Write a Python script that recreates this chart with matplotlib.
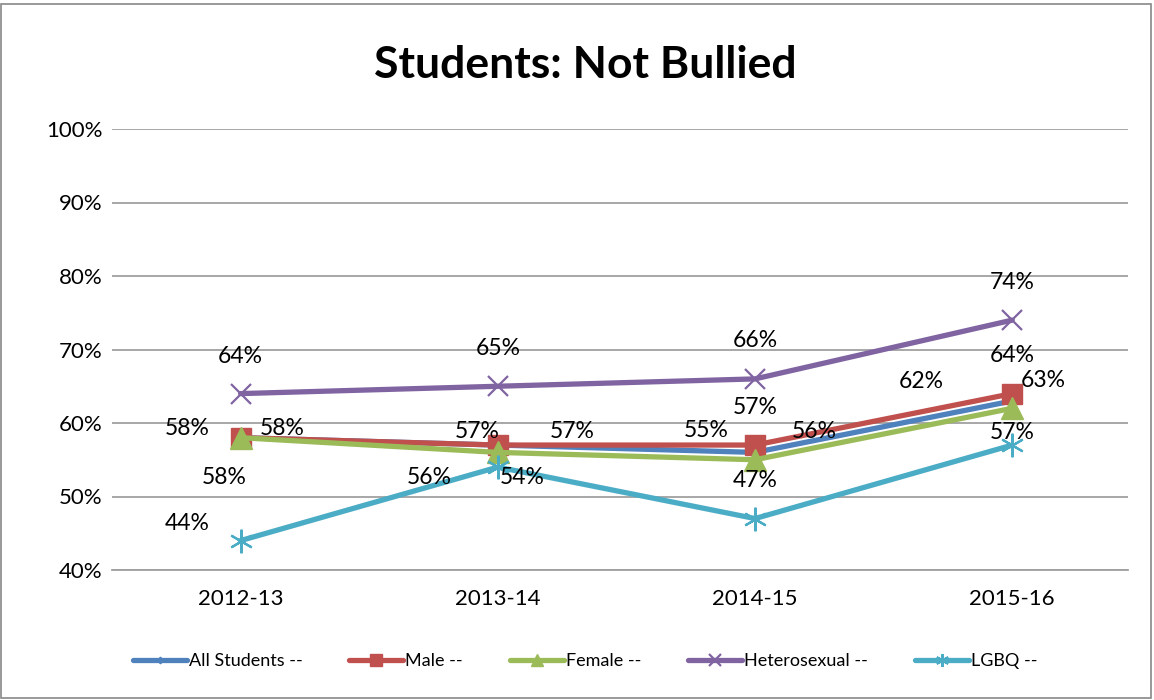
import matplotlib.pyplot as plt
from matplotlib.patches import Rectangle

# chart data
years = ["2012-13", "2013-14", "2014-15", "2015-16"]
all_students = [58, 57, 56, 63]
male = [58, 57, 57, 64]
female = [58, 56, 55, 62]
hetero = [64, 65, 66, 74]
lgbq = [44, 54, 47, 57]

plt.rcParams['font.family'] = ['Lato', 'DejaVu Sans']

fig = plt.figure(figsize=(11.54, 7.0), dpi=100)
ax = fig.add_axes([112 / 1154, 1 - 570 / 700, 1016 / 1154, 441 / 700])

# series: (label, values, color, marker, markersize, label offsets in px)
series = [
    ("All Students --", all_students, "#4F81BD", "D", 6,
     [(42, 9), (74, 14), (59, 21), (31, 20)]),
    ("Male --", male, "#C0504D", "s", 15,
     [(-53, 9), (-21, 14), (0, 38), (0, 38)]),
    ("Female --", female, "#9BBB59", "^", 16,
     [(-16, -40), (-69, -25), (-49, 29), (-91, 27)]),
    ("Heterosexual --", hetero, "#8064A2", "x", 15,
     [(0, 37), (0, 38), (0, 38), (0, 38)]),
    ("LGBQ --", lgbq, "#4BACC6", (6, 2, 0), 17,
     [(-53, 17), (24, -10), (0, 38), (0, 13)]),
]

x = list(range(len(years)))
for name, vals, color, mk, ms, offs in series:
    ax.plot(x, vals, color=color, lw=3.8, marker=mk, markersize=ms,
            markeredgewidth=1.6 if mk in ("x", (6, 2, 0)) else 1,
            markeredgecolor=color, markerfacecolor=color, label=name,
            solid_capstyle="round", solid_joinstyle="round", clip_on=False)
    for xi, v, (dx, dy) in zip(x, vals, offs):
        ax.annotate(f"{v}%", (xi, v), xytext=(dx, dy), textcoords="offset pixels",
                    ha="center", va="center", fontsize=16.5, color="black")

ax.set_xlim(-0.5, 3.45)
ax.set_ylim(40, 100)
ax.set_yticks(range(40, 101, 10))
ax.set_yticklabels([f"{t}%" for t in range(40, 101, 10)], fontsize=16)
ax.set_xticks(x)
ax.set_xticklabels(years, fontsize=16)
ax.tick_params(axis="both", length=0, pad=7)
ax.tick_params(axis="x", pad=14)
ax.grid(axis="y", color="#A0A0A0", lw=1.3)
ax.set_axisbelow(True)
for s in ["top", "right", "left"]:
    ax.spines[s].set_visible(False)
ax.spines["bottom"].set_color("#A0A0A0")
ax.spines["bottom"].set_linewidth(1.3)

fig.text(585 / 1154, 1 - 65 / 700, "Students: Not Bullied", ha="center", va="center",
         fontsize=32, fontweight="bold")

leg = fig.legend(loc="center", bbox_to_anchor=(585 / 1154, 1 - 661 / 700), ncol=5,
                 frameon=False, fontsize=13, handlelength=3.0, columnspacing=2.6,
                 handletextpad=0.1, markerscale=0.55)

fig.add_artist(Rectangle((1 / 1154, 2 / 700), 1150 / 1154, 694 / 700,
                         transform=fig.transFigure, fill=False, ec="#888888", lw=1.2))

fig.savefig("out.png", dpi=100)
